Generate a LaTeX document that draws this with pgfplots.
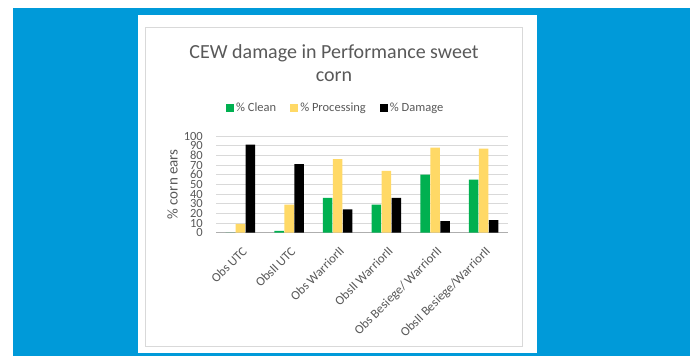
\documentclass[border=0pt]{standalone}
\usepackage{pgfplots}
\pgfplotsset{compat=1.18}
\usepackage{fontspec}
\setmainfont{Carlito}
\definecolor{bgblue}{HTML}{009AD9}
\definecolor{txtgray}{HTML}{595959}
\definecolor{cgreen}{HTML}{00B050}
\definecolor{cyellow}{HTML}{FFD966}
\definecolor{gridgray}{HTML}{D9D9D9}
\pgfplotstableread{
idx clean proc dmg
0 0 9 91
1 2 29 71
2 36 76 24
3 29 64 36
4 60 88 12
5 55 87 13
}\datatable
\begin{document}
\begin{tikzpicture}
\useasboundingbox (0pt,0pt) rectangle (690pt,356pt);
\fill[white] (0pt,0pt) rectangle (690pt,356pt);
\fill[bgblue] (13pt,0pt) rectangle (690pt,348pt);
\fill[white] (138pt,3pt) rectangle (537pt,341pt);
\draw[gridgray,line width=0.8pt] (145.5pt,10pt) rectangle (522.5pt,328.5pt);
\node[font=\fontsize{20}{23}\selectfont,text=txtgray,align=center] at (334pt,292.5pt) {CEW damage in Performance sweet\\corn};
\begin{axis}[
  at={(216pt,123.3pt)}, anchor=south west,
  scale only axis, width=292pt, height=96.7pt,
  xmin=-0.5, xmax=5.5, ymin=0, ymax=100,
  ytick={0,10,...,100},
  xtick={0,...,5},
  xticklabels={Obs UTC, ObsII UTC, Obs WarriorII, ObsII WarriorII, Obs Besiege/ WarriorII, ObsII Besiege/WarriorII},
  xticklabel style={yshift=-13pt, xshift=1pt, rotate=45, anchor=north east, font=\fontsize{12.8}{14}\selectfont, text=txtgray, inner sep=0pt},
  yticklabel style={font=\fontsize{12.5}{10}\selectfont, text=txtgray, inner sep=0pt, xshift=-13pt},
  /pgf/number format/assume math mode=true,
  ylabel={\% corn ears},
  ylabel style={at={(axis description cs:-0.149,0.5)}, anchor=center, font=\fontsize{15}{16}\selectfont, text=txtgray},
  ymajorgrids, grid style={gridgray, line width=0.7pt},
  axis line style={draw=none},
  major tick length=0pt,
  extra y ticks={0}, extra y tick labels={},
  extra y tick style={grid style={color=gridgray!80!black, line width=0.8pt}},
  clip=false,
  legend columns=3,
  legend style={at={(0.41,1.29)}, anchor=center, draw=none, fill=none, font=\fontsize{12.5}{14}\selectfont, text=txtgray, /tikz/every even column/.append style={column sep=12pt}},
  legend image code/.code={\fill[#1] (0pt,-4pt) rectangle (8pt,4pt);},
]
\addplot[ybar, bar width=9.5pt, bar shift=-10pt, fill=cgreen, draw=none] table[x=idx,y=clean] {\datatable};
\addlegendentry{\% Clean}
\addplot[ybar, bar width=9.5pt, bar shift=0pt, fill=cyellow, draw=none] table[x=idx,y=proc] {\datatable};
\addlegendentry{\% Processing}
\addplot[ybar, bar width=9.5pt, bar shift=10pt, fill=black, draw=none] table[x=idx,y=dmg] {\datatable};
\addlegendentry{\% Damage}
\end{axis}
\end{tikzpicture}
\end{document}
